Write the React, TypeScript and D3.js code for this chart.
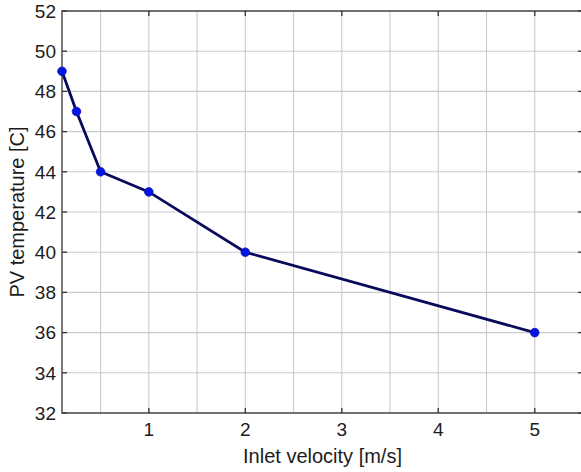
import React from "react";
import * as d3 from "d3";

// Inlet velocity [m/s] vs PV temperature [C]
const velocities = [0.1, 0.25, 0.5, 1, 2, 5];
const temperatures = [49, 47, 44, 43, 40, 36];
const xTicks = [1, 2, 3, 4, 5];
const xGrid = [0.5, 1, 1.5, 2, 2.5, 3, 3.5, 4, 4.5, 5];
const yTicks = [32, 34, 36, 38, 40, 42, 44, 46, 48, 50, 52];

const W = 581;
const H = 472;
const margin = { left: 62, top: 11, right: 583, bottom: 413 };

export default function App() {
  const x = d3.scaleLinear().domain([0.1, 5.5]).range([margin.left, margin.right]);
  const y = d3.scaleLinear().domain([32, 52]).range([margin.bottom, margin.top]);
  const pts = velocities.map((v, i) => [v, temperatures[i]] as [number, number]);
  const line = d3
    .line<[number, number]>()
    .x((d) => x(d[0]))
    .y((d) => y(d[1]));

  const axisColor = "#333333";
  const gridColor = "#cbcbcb";
  const textColor = "#1c1c1c";
  const font = "'Liberation Sans', Arial, sans-serif";
  const tickLen = 5;

  return (
    <svg
      width={W}
      height={H}
      style={{ position: "absolute", left: 0, top: 0, display: "block", background: "#fff" }}
      fontFamily={font}
    >
      <rect x={0} y={0} width={W} height={H} fill="#fff" />
      {/* grid */}
      {xGrid.map((v) => (
        <line key={"gx" + v} x1={x(v)} x2={x(v)} y1={margin.top} y2={margin.bottom} stroke={gridColor} strokeWidth={1.1} />
      ))}
      {yTicks.map((v) => (
        <line key={"gy" + v} x1={margin.left} x2={margin.right} y1={y(v)} y2={y(v)} stroke={gridColor} strokeWidth={1.1} />
      ))}
      {/* axes box */}
      <rect
        x={margin.left}
        y={margin.top}
        width={margin.right - margin.left}
        height={margin.bottom - margin.top}
        fill="none"
        stroke={axisColor}
        strokeWidth={1.3}
      />
      {/* ticks */}
      {xTicks.map((v) => (
        <g key={"xt" + v}>
          <line x1={x(v)} x2={x(v)} y1={margin.bottom} y2={margin.bottom - tickLen} stroke={axisColor} strokeWidth={1.3} />
          <line x1={x(v)} x2={x(v)} y1={margin.top} y2={margin.top + tickLen} stroke={axisColor} strokeWidth={1.3} />
          <text x={x(v)} y={436} textAnchor="middle" fontSize={19} fill={textColor}>
            {v}
          </text>
        </g>
      ))}
      {yTicks.map((v) => (
        <g key={"yt" + v}>
          <line x1={margin.left} x2={margin.left + tickLen} y1={y(v)} y2={y(v)} stroke={axisColor} strokeWidth={1.3} />
          <line x1={margin.right} x2={margin.right - tickLen} y1={y(v)} y2={y(v)} stroke={axisColor} strokeWidth={1.3} />
          <text x={56} y={y(v)} dy="0.36em" textAnchor="end" fontSize={19} fill={textColor}>
            {v}
          </text>
        </g>
      ))}
      {/* series */}
      <path d={line(pts) || ""} fill="none" stroke="#0a0a5c" strokeWidth={2.8} />
      {pts.map((p, i) => (
        <circle key={"m" + i} cx={x(p[0])} cy={y(p[1])} r={4.3} fill="#0514e0" stroke="#0610c0" strokeWidth={0.8} />
      ))}
      {/* axis labels */}
      <text x={(margin.left + margin.right) / 2} y={463} textAnchor="middle" fontSize={20} fill={textColor}>
        Inlet velocity [m/s]
      </text>
      <text
        transform={`translate(24, ${(margin.top + margin.bottom) / 2}) rotate(-90)`}
        textAnchor="middle"
        fontSize={20}
        fill={textColor}
      >
        PV temperature [C]
      </text>
    </svg>
  );
}
